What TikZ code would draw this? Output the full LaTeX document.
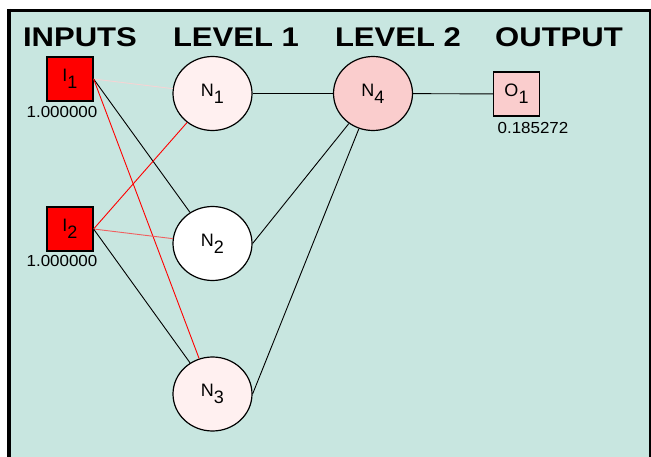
\documentclass[tikz,border=0pt]{standalone}
\usepackage{fontspec}
\setmainfont{Liberation Sans}
\newfontfamily\headfont{Liberation Sans Bold}[FakeStretch=1.15]
\newfontfamily\valfont{Liberation Sans}[FakeStretch=1.06]
\usepackage{xcolor}
\usepackage{tikz}
\usetikzlibrary{shapes.geometric, positioning}
\definecolor{panel}{RGB}{200,230,224}
\definecolor{palepink}{RGB}{255,240,240}
\definecolor{midpink}{RGB}{250,205,205}
\definecolor{faintred}{RGB}{245,212,212}
\definecolor{softred}{RGB}{240,95,95}
\tikzstyle{wire} = [line width=0.8pt, draw=black]
\newcommand{\sublab}[2]{#1\raisebox{-7pt}{#2}}

\begin{document}
\begin{tikzpicture}[
    x=1pt, y=1pt,
    head/.style={font=\headfont\fontsize{27}{27}\selectfont, inner sep=0},
    value/.style={font=\valfont\fontsize{16}{16}\selectfont, inner sep=0},
    inbox/.style={rectangle, draw, fill=red, minimum width=46pt, minimum height=44pt, inner sep=0, line width=1.2pt, font=\fontsize{18}{18}\selectfont},
    outbox/.style={inbox, fill=midpink},
    neuron/.style={ellipse, draw, fill=white, minimum width=79pt, minimum height=74pt, inner sep=0, line width=1.2pt, font=\fontsize{18}{18}\selectfont},
    wire/.style={line width=0.9pt, draw=black}
]
    \useasboundingbox (0,0) rectangle (651,-457);

    % Panel and frame
    \fill[panel] (9,-11) rectangle (651,-457);
    \draw[line width=4pt] (9,-9) -- (9,-457);
    \draw[line width=3pt] (7,-10.5) -- (651,-10.5);
    \draw[line width=2pt] (650,-9) -- (650,-457);

    % Column titles
    \node[head] (tin) at (80,-37.5) {INPUTS};
    \node[head] (tl1) at (236,-37.5) {LEVEL 1};
    \node[head] (tl2) at (398,-37.5) {LEVEL 2};
    \node[head] (tout) at (559,-37.5) {OUTPUT};

    % Inputs
    \node[inbox] (i1) at (70,-79) {\sublab{I}{1}};
    \node[inbox] (i2) at (70,-229) {\sublab{I}{2}};
    \node[value] (i1val) at (62,-112) {1.000000};
    \node[value] (i2val) at (62,-261) {1.000000};

    % Level 1
    \node[neuron, fill=palepink] (n1) at (212.5,-93.5) {\sublab{N}{1}};
    \node[neuron] (n2) at (212.5,-243.5) {\sublab{N}{2}};
    \node[neuron, fill=palepink] (n3) at (212.5,-394) {\sublab{N}{3}};

    % Level 2
    \node[neuron, fill=midpink] (n4) at (373,-93.5) {\sublab{N}{4}};

    % Output
    \node[outbox] (o1) at (516.5,-94) {\sublab{O}{1}};
    \node[value] (o1val) at (533,-128) {0.185272};

    % Connections
    \draw[wire, draw=faintred] (i1.east) -- (n1);
    \draw[wire] (i1.east) -- (n2);
    \draw[wire, draw=red] (i1.east) -- (n3);
    \draw[wire, draw=red] (i2.east) -- (n1);
    \draw[wire, draw=softred] (i2.east) -- (n2);
    \draw[wire] (i2.east) -- (n3);
    \draw[wire] (n1) -- (n4);
    \draw[wire] (n2.east) -- (n4);
    \draw[wire] (n3.east) -- (n4);
    \draw[wire] (n4) -- (o1);
\end{tikzpicture}
\end{document}
